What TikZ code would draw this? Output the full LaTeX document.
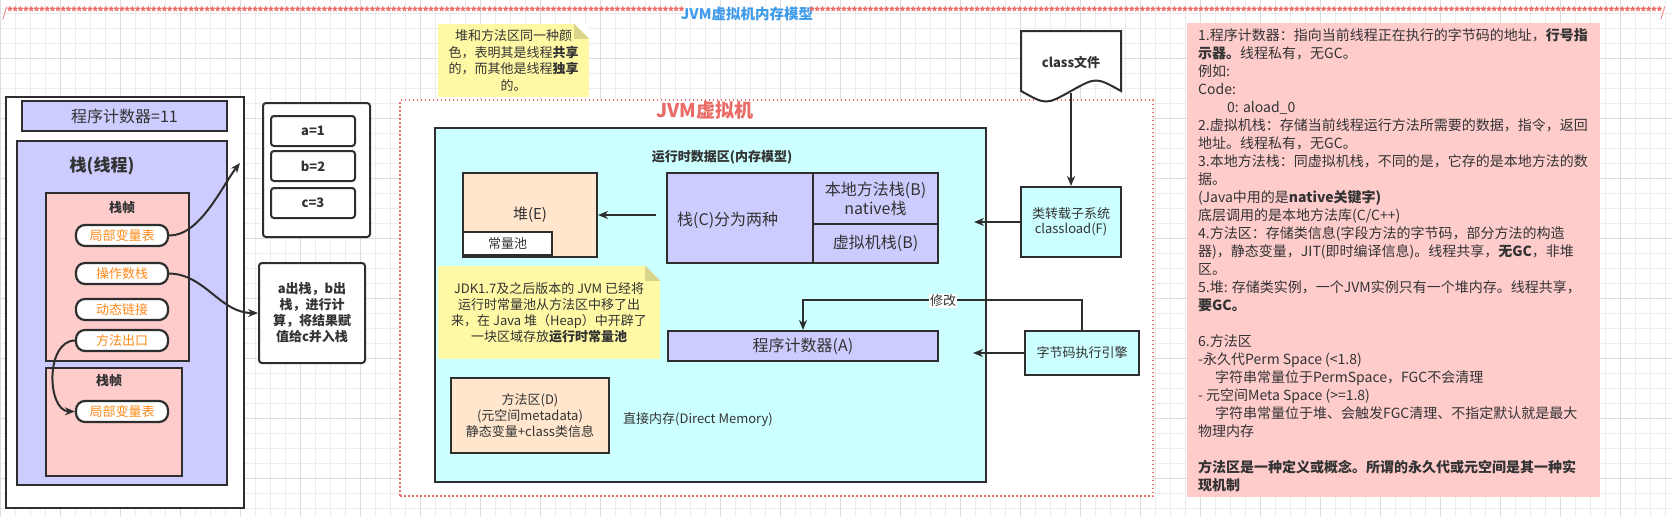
\documentclass[tikz,border=0pt]{standalone}
\usepackage{fontspec}
\setmainfont{Noto Sans CJK SC}
\usetikzlibrary{arrows.meta}
\definecolor{lav}{HTML}{CCCCFF}
\definecolor{pinkf}{HTML}{FFCCCC}
\definecolor{peach}{HTML}{FFE6CC}
\definecolor{cyanf}{HTML}{CCFFFF}
\definecolor{notey}{HTML}{FFF9A6}
\definecolor{notefold}{HTML}{D8D48A}
\definecolor{bord}{HTML}{2E2E2E}
\definecolor{txt}{HTML}{333333}
\definecolor{orng}{HTML}{FF8A1C}
\definecolor{redt}{HTML}{EA6B66}
\definecolor{bluet}{HTML}{3D9BEA}
\definecolor{gridminor}{HTML}{EDEDED}
\definecolor{gridmajor}{HTML}{DDDDDD}
\newcommand{\myfs}[2]{\fontsize{#1}{#2}\selectfont}
\tikzset{
 box/.style={draw=bord, line width=2pt, inner sep=0pt, text=txt, align=center},
 pill/.style={draw=bord, line width=2.2pt, fill=white, rounded corners=9pt, minimum width=92pt, minimum height=21pt, inner sep=0pt, text=orng, font=\myfs{13}{16}},
 varbox/.style={draw=bord, line width=2pt, fill=white, rounded corners=3pt, minimum width=84pt, minimum height=30pt, inner sep=0pt, text=txt, font=\bfseries\myfs{13}{16}},
 lbl/.style={inner sep=0pt, text=txt, align=center},
 arr/.style={draw=bord, line width=2pt, -{Stealth[length=10pt,width=8pt]}},
 ast/.style={inner sep=0pt, text=redt, font=\bfseries\myfs{12}{12}},
 info/.style={anchor=base west, inner sep=0pt, text=txt, font=\myfs{14}{18}},
 notebox/.style={fill=notey, inner sep=0pt, text=txt, align=center},
}
\begin{document}
\begin{tikzpicture}[x=1pt,y=-1pt]
\useasboundingbox (0,0) rectangle (1672,517);
% grid
\foreach \x in {0,15,...,1665} \draw[gridminor, line width=0.8pt] (\x,0) -- (\x,517);
\foreach \y in {13,28,...,508} \draw[gridminor, line width=0.8pt] (0,\y) -- (1672,\y);
\foreach \x in {0,60,...,1620} \draw[gridmajor, line width=0.8pt] (\x,0) -- (\x,517);
\foreach \y in {58,118,...,478} \draw[gridmajor, line width=0.8pt] (0,\y) -- (1672,\y);

% title line
\node[inner sep=0pt, text=redt, font=\myfs{13}{13}] (slL) at (5,14) {/};
\foreach \i in {0,...,126} \node[ast] (al\i) at ({10+\i*5.33},12) {*};
\node[inner sep=0pt, text=bluet, font=\bfseries\myfs{14.5}{15}] (title) at (747,14) {JVM虚拟机内存模型};
\foreach \i in {0,...,159} \node[ast] (ar\i) at ({812+\i*5.33},12) {*};
\node[inner sep=0pt, text=redt, font=\myfs{13}{13}] (slR) at (1663,14) {/};

% thread side
\node[box, fill=white, minimum width=238, minimum height=411] (thread) at (125,302.5) {};
\node[box, fill=lav, minimum width=205, minimum height=30, font=\myfs{16}{18}] (pc11) at (124.5,116) {程序计数器=11};
\node[box, fill=lav, minimum width=210, minimum height=344] (stk) at (122,313) {};
\node[lbl, font=\bfseries\myfs{17}{20}] (stkT) at (102,166) {栈(线程)};
\node[box, fill=pinkf, minimum width=143, minimum height=168] (fr1) at (117.5,277) {};
\node[lbl, font=\bfseries\myfs{13}{16}] (fr1T) at (122,208) {栈帧};
\node[pill] (lv1) at (122,235.5) {局部变量表};
\node[pill] (ops) at (122,273.5) {操作数栈};
\node[pill] (dyn) at (122,309.5) {动态链接};
\node[pill] (ret) at (122,340.5) {方法出口};
\node[box, fill=pinkf, minimum width=136, minimum height=108] (fr2) at (114,422) {};
\node[lbl, font=\bfseries\myfs{13}{16}] (fr2T) at (109,381) {栈帧};
\node[pill] (lv2) at (122,411.5) {局部变量表};

\node[box, fill=white, rounded corners=3pt, minimum width=107, minimum height=134] (vars) at (316.5,170) {};
\node[varbox] (va) at (313,131) {a=1};
\node[varbox] (vb) at (313,166) {b=2};
\node[varbox] (vc) at (313,203) {c=3};
\node[box, fill=white, rounded corners=3pt, minimum width=106, minimum height=100, font=\bfseries\myfs{13}{16}] (calc) at (312,313) {a出栈，b出\\栈，进行计\\算，将结果赋\\值给c并入栈};

\coordinate (lvEnd) at (240,163);
\draw[arr] (lv1.east) .. controls (200,236) and (222,186) .. (lvEnd);
\draw[arr] (ops.east) .. controls (205,274) and (220,313) .. (calc.west);
\draw[arr] (ret.west) .. controls (45,341) and (47,411) .. (lv2.west);

% note 1
\node[notebox, minimum width=151, minimum height=73, font=\myfs{13}{16.7}] (note1) at (513.5,60.5) {堆和方法区同一种颜\\色，表明其是线程\textbf{共享}\\的，而其他是线程\textbf{独享}\\的。};
\fill[white] (note1.north east) -- ++(-15,0) -- ++(15,15) -- cycle;
\fill[notefold] (note1.north east) ++(-15,0) -- ++(0,15) -- ++(15,0) -- cycle;

% JVM
\node[draw=redt, dash pattern=on 1.5pt off 2.5pt, line width=1.4pt, fill=white, minimum width=753, minimum height=396, inner sep=0pt] (jvm) at (776.5,298) {};
\node[inner sep=0pt, text=redt, font=\bfseries\myfs{19}{20}] (jvmT) at (705,110) {JVM虚拟机};
\node[box, fill=cyanf, minimum width=551, minimum height=354] (rt) at (710.5,305) {};
\node[lbl, font=\bfseries\myfs{13}{16}] (rtT) at (722,157) {运行时数据区(内存模型)};
\node[box, fill=peach, minimum width=134, minimum height=84, font=\myfs{15}{18}] (heap) at (530,215) {堆(E)};
\node[box, fill=white, minimum width=89, minimum height=23, font=\myfs{13}{16}] (pool) at (507.5,243.5) {常量池};
\node[box, fill=lav, minimum width=146, minimum height=90] (stkC) at (740,218) {};
\node[lbl, anchor=west, font=\myfs{16}{18}] (stkCT) at (677,220) {栈(C)分为两种};
\node[box, fill=lav, minimum width=125, minimum height=51, font=\myfs{16}{19}] (natv) at (875.5,198.5) {本地方法栈(B)\\native栈};
\node[box, fill=lav, minimum width=125, minimum height=39, font=\myfs{16}{19}] (vms) at (875.5,243.5) {虚拟机栈(B)};
\node[box, fill=lav, minimum width=270, minimum height=30, font=\myfs{16}{18}] (pcA) at (803,346) {程序计数器(A)};

\node[notebox, minimum width=222, minimum height=93, font=\myfs{13}{16}] (note2) at (549,312.5) {JDK1.7及之后版本的 JVM 已经将\\运行时常量池从方法区中移了出\\来，在 Java 堆（Heap）中开辟了\\一块区域存放\textbf{运行时常量池}};
\fill[cyanf] (note2.north east) -- ++(-15,0) -- ++(15,15) -- cycle;
\fill[notefold] (note2.north east) ++(-15,0) -- ++(0,15) -- ++(15,0) -- cycle;

\node[box, fill=peach, minimum width=158, minimum height=75, font=\myfs{13}{15.7}] (mD) at (530,415.5) {方法区(D)\\(元空间metadata)\\静态变量+class类信息};
\node[lbl, anchor=west, font=\myfs{13}{16}] (direct) at (623,420) {直接内存(Direct Memory)};

% class file, loader, engine
\path[fill=white, draw=bord, line width=2pt] (1021,31) -- (1121,31) -- (1121,91) .. controls (1096,77) .. (1071,91) .. controls (1046,105) .. (1021,91) -- cycle;
\node[inner sep=0pt, minimum width=100, minimum height=62, text=txt, font=\bfseries\myfs{13}{16}] (cf) at (1071,62) {class文件};
\node[box, fill=cyanf, minimum width=100, minimum height=70, font=\myfs{13}{15}] (cl) at (1071,222) {类转载子系统\\classload(F)};
\node[box, fill=cyanf, minimum width=114, minimum height=44, font=\myfs{13}{16}] (eng) at (1082,353) {字节码执行引擎};

\draw[arr] (cf.south) -- (cl.north);
\coordinate (clEnd) at (974,222);
\draw[arr] (cl.west) -- (clEnd);
\coordinate (engEnd) at (973,353);
\draw[arr] (eng.west) -- (engEnd);
\draw[arr] (eng.north) -- ++(0,-30) -| (pcA.north);
\node[fill=white, inner sep=1pt, text=txt, font=\myfs{13}{16}] (modT) at (943,301) {修改};
\draw[arr] (heap.east -| stkC.west) ++(-10,0) -- (heap.east);

% info box
\node[fill=pinkf, minimum width=413, minimum height=474, inner sep=0pt] (infobox) at (1393.5,260) {};
\node[info] (i1) at (1198,40.5) {1.程序计数器：指向当前线程正在执行的字节码的地址，\textbf{行号指}};
\node[info] (i2) at (1198,58.5) {\textbf{示器。}线程私有，无GC。};
\node[info] (i3) at (1198,76.5) {例如:};
\node[info] (i4) at (1198,94.5) {Code:};
\node[info] (i5) at (1227,112.5) {0: aload\_0};
\node[info] (i6) at (1198,130.5) {2.虚拟机栈：存储当前线程运行方法所需要的数据，指令，返回};
\node[info] (i7) at (1198,148.5) {地址。线程私有，无GC。};
\node[info] (i8) at (1198,166.5) {3.本地方法栈：同虚拟机栈，不同的是，它存的是本地方法的数};
\node[info] (i9) at (1198,184.5) {据。};
\node[info] (i10) at (1198,202.5) {(Java中用的是\textbf{native关键字)}};
\node[info] (i11) at (1198,220.5) {底层调用的是本地方法库(C/C++)};
\node[info] (i12) at (1198,238.5) {4.方法区：存储类信息(字段方法的字节码，部分方法的构造};
\node[info] (i13) at (1198,256.5) {器)，静态变量，JIT(即时编译信息)。线程共享，\textbf{无GC}，非堆};
\node[info] (i14) at (1198,274.5) {区。};
\node[info] (i15) at (1198,292.5) {5.堆: 存储类实例，一个JVM实例只有一个堆内存。线程共享，};
\node[info] (i16) at (1198,310.5) {\textbf{要GC。}};
\node[info] (i18) at (1198,346.5) {6.方法区};
\node[info] (i19) at (1198,364.5) {-永久代Perm Space (<1.8)};
\node[info] (i20) at (1215,382.5) {字符串常量位于PermSpace，FGC不会清理};
\node[info] (i21) at (1198,400.5) {- 元空间Meta Space (>=1.8)};
\node[info] (i22) at (1215,418.5) {字符串常量位于堆、会触发FGC清理、不指定默认就是最大};
\node[info] (i23) at (1198,436.5) {物理内存};
\node[info] (i25) at (1198,472.5) {\textbf{方法区是一种定义或概念。所谓的永久代或元空间是其一种实}};
\node[info] (i26) at (1198,490.5) {\textbf{现机制}};
\end{tikzpicture}
\end{document}
